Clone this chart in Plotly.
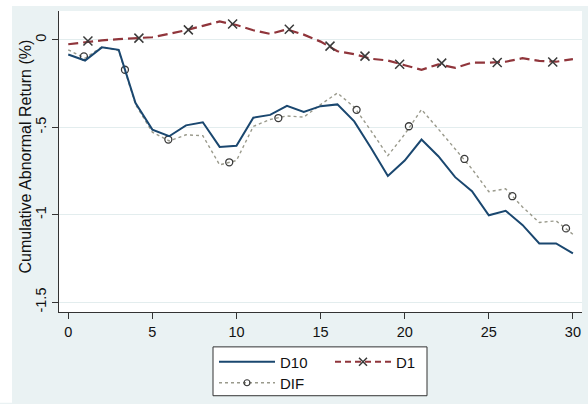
import plotly.graph_objects as go

days = list(range(0, 31))
d10 = [-0.084, -0.118, -0.043, -0.057, -0.361, -0.513, -0.551, -0.489, -0.471, -0.612,
       -0.605, -0.445, -0.429, -0.377, -0.412, -0.379, -0.369, -0.466, -0.618, -0.778,
       -0.690, -0.570, -0.665, -0.785, -0.865, -1.003, -0.977, -1.058, -1.164, -1.164, -1.221]
d1 = [-0.025, -0.012, -0.003, 0.004, 0.010, 0.015, 0.035, 0.055, 0.080, 0.105,
      0.085, 0.055, 0.034, 0.060, 0.030, -0.010, -0.065, -0.082, -0.108, -0.118,
      -0.145, -0.171, -0.140, -0.160, -0.130, -0.130, -0.125, -0.105, -0.120, -0.125, -0.110]
dif = [-0.057, -0.105, -0.040, -0.062, -0.370, -0.528, -0.578, -0.543, -0.548, -0.715,
       -0.690, -0.495, -0.455, -0.435, -0.442, -0.370, -0.304, -0.385, -0.520, -0.662,
       -0.540, -0.398, -0.510, -0.625, -0.738, -0.868, -0.852, -0.955, -1.044, -1.035, -1.112]

# marker positions as drawn on the lines
d1_mark_x = [1.17, 4.2, 7.14, 9.77, 13.14, 15.56, 17.64, 19.7, 22.2, 25.5, 28.8]
d1_mark_y = [-0.006, 0.010, 0.057, 0.091, 0.061, -0.036, -0.093, -0.139, -0.133, -0.129, -0.127]
dif_mark_x = [0.93, 3.37, 5.95, 9.57, 12.49, 17.14, 20.25, 23.55, 26.4, 29.59]
dif_mark_y = [-0.095, -0.171, -0.570, -0.700, -0.447, -0.400, -0.494, -0.681, -0.894, -1.078]

x_ticks = [0, 5, 10, 15, 20, 25, 30]
y_ticks = [0, -0.5, -1, -1.5]
y_tick_labels = ["0", "-.5", "-1", "-1.5"]
y_title = "Cumulative Abnormal Return (%)"

NAVY = "#1a476f"
MAROON = "#90353b"
DIFC = "#9a9a8c"
MK = "#3a3a3a"

fig = go.Figure()
fig.add_trace(go.Scatter(x=days, y=dif, mode="lines", showlegend=False,
                         line=dict(color=DIFC, width=1.4, dash="dot")))
fig.add_trace(go.Scatter(x=dif_mark_x, y=dif_mark_y, mode="markers", showlegend=False,
                         marker=dict(symbol="circle-open", size=7, color=MK, line=dict(width=1.3, color=MK))))
fig.add_trace(go.Scatter(x=days, y=d10, mode="lines", name="D10", legend="legend",
                         line=dict(color=NAVY, width=2)))
fig.add_trace(go.Scatter(x=days, y=d1, mode="lines", showlegend=False,
                         line=dict(color=MAROON, width=2.2, dash="10px,5px")))
fig.add_trace(go.Scatter(x=d1_mark_x, y=d1_mark_y, mode="markers", showlegend=False,
                         marker=dict(symbol="x-thin", size=9, color=MK, line=dict(width=1.5, color=MK))))
# legend entries
fig.add_trace(go.Scatter(x=[None], y=[None], mode="lines+markers", name="D1", legend="legend",
                         line=dict(color=MAROON, width=2.2, dash="6px,4px"),
                         marker=dict(symbol="x-thin", size=8, color=MK, line=dict(width=1.5, color=MK))))
fig.add_trace(go.Scatter(x=[None], y=[None], mode="lines+markers", name="DIF", legend="legend2",
                         line=dict(color=DIFC, width=1.4, dash="dot"),
                         marker=dict(symbol="circle-open", size=6, color=MK, line=dict(width=1.2, color=MK))))

W, H = 588, 404
L, R, T, B = 59, 6, 11, 91
pw, ph = W - L - R, H - T - B

def px(x):
    return (x - L) / pw

def py(y):
    return (H - B - y) / ph

shapes = [
    dict(type="rect", xref="paper", yref="paper", x0=px(0), x1=px(12), y0=py(404), y1=py(0),
         fillcolor="white", line=dict(width=0), layer="below"),
    dict(type="rect", xref="paper", yref="paper", x0=px(0), x1=px(588), y0=py(6), y1=py(0),
         fillcolor="white", line=dict(width=0), layer="below"),
    dict(type="rect", xref="paper", yref="paper", x0=px(213), x1=px(427), y0=py(397), y1=py(348),
         fillcolor="white", line=dict(width=1, color="#333333"), layer="below"),
]

font = dict(family="Liberation Sans, Arial, sans-serif", color="#111111")
fig.update_layout(
    width=W, height=H,
    margin=dict(l=L, r=R, t=T, b=B, pad=0),
    paper_bgcolor="#eaf2f3", plot_bgcolor="white",
    font=dict(**font, size=15),
    shapes=shapes,
    annotations=[dict(text=y_title, xref="paper", yref="paper", x=px(26), y=py(157),
                      xanchor="center", yanchor="middle", textangle=-90, showarrow=False,
                      font=dict(size=16))],
    legend=dict(orientation="h", x=px(214), y=py(362), xanchor="left", yanchor="middle",
                bgcolor="rgba(0,0,0,0)", borderwidth=0, font=dict(size=15),
                itemwidth=56, entrywidth=45, tracegroupgap=0),
    legend2=dict(orientation="h", x=px(214), y=py(383), xanchor="left", yanchor="middle",
                 bgcolor="rgba(0,0,0,0)", borderwidth=0, font=dict(size=15),
                 itemwidth=56),
)
fig.update_xaxes(range=[-0.55, 30.54], tickmode="array", tickvals=x_ticks,
                 showgrid=False, zeroline=False, showline=True, linecolor="#333333", linewidth=1.3,
                 ticks="outside", ticklen=6, tickwidth=1.2, tickcolor="#333333",
                 tickfont=dict(size=14.5))
fig.update_yaxes(range=[-1.556, 0.165], tickmode="array", tickvals=y_ticks, ticktext=y_tick_labels,
                 showgrid=True, gridcolor="#e3edee", gridwidth=1.2, zeroline=False,
                 showline=True, linecolor="#333333", linewidth=1.3,
                 ticks="outside", ticklen=6, tickwidth=1.2, tickcolor="#333333",
                 tickangle=-90, tickfont=dict(size=14.5))

fig.write_html("out.html", config={"displayModeBar": False},
               post_script="document.body.style.margin='0px';document.body.style.overflow='hidden';")
